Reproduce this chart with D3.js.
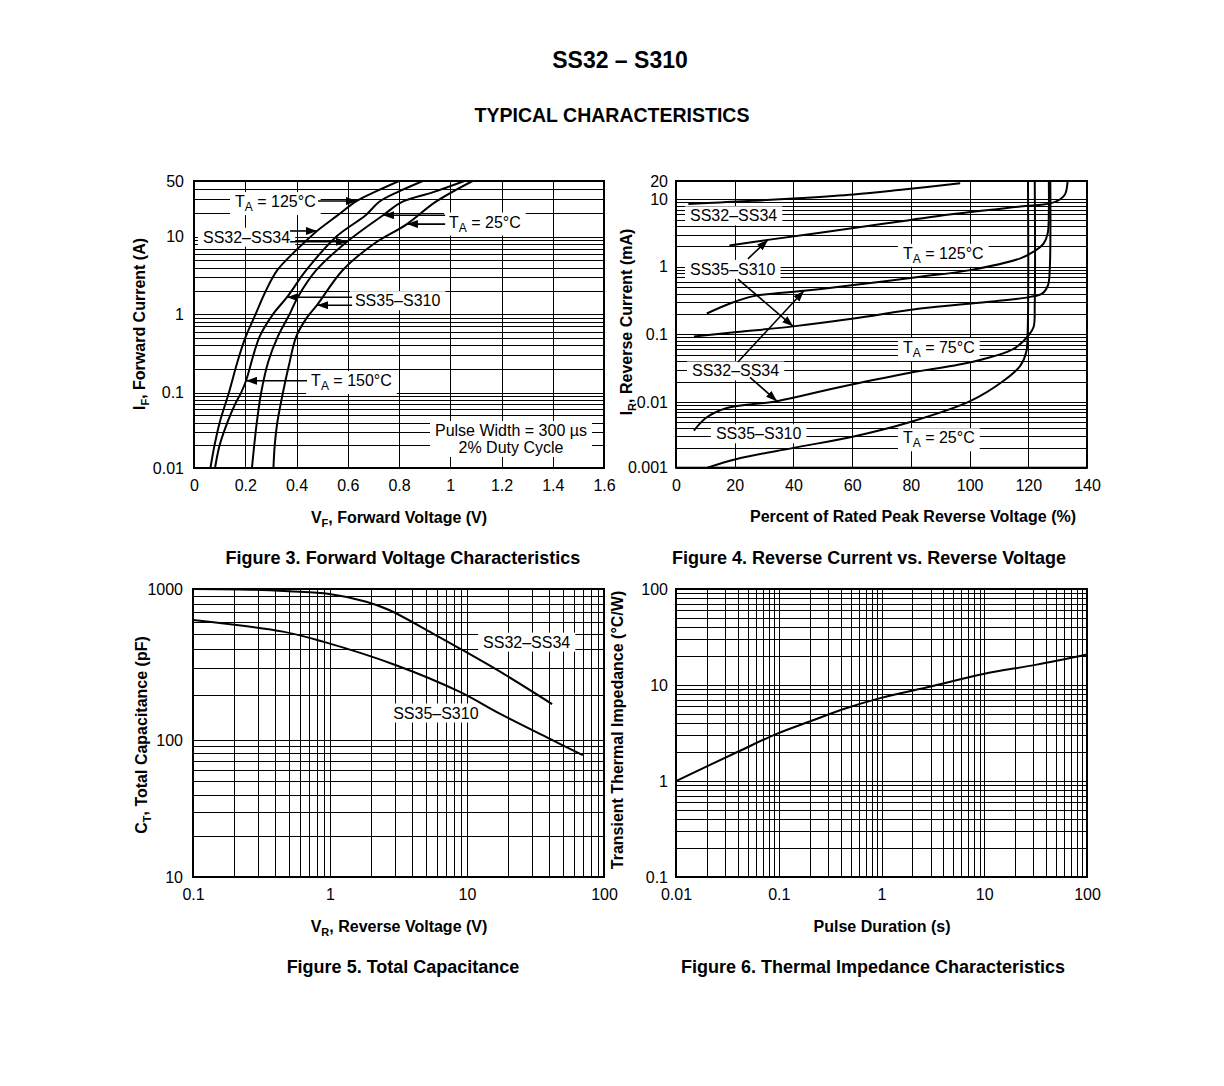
<!DOCTYPE html>
<html>
<head>
<meta charset="utf-8">
<script src="https://cdn.jsdelivr.net/npm/d3@7"></script>
<style>
  body { margin: 0; background: #fff; }
  svg { display: block; }
  text { font-family: "Liberation Sans", Arial, Helvetica, sans-serif; fill: #000; }
</style>
</head>
<body>
<svg id="sheet" width="1224" height="1086"></svg>
<script>
// ---------- Figure 3: forward voltage (V) vs forward current (A)
const f3XTicks = [0, 0.2, 0.4, 0.6, 0.8, 1, 1.2, 1.4, 1.6];
const f3XGrid = [0.2, 0.4, 0.6, 0.8, 1, 1.2, 1.4];
const f3YTicks = [0.01, 0.1, 1, 10, 50];
const f3CurveA = [[0.064,0.01],[0.08,0.02],[0.10,0.04],[0.136,0.1],[0.17,0.25],[0.20,0.5],[0.24,1],[0.28,2],[0.325,3.7],[0.386,6.1],[0.44,9],[0.48,11.8],[0.56,18.5],[0.634,28],[0.71,37],[0.80,50]];
const f3CurveB = [[0.082,0.01],[0.10,0.02],[0.13,0.04],[0.16,0.07],[0.184,0.1],[0.203,0.142],[0.256,0.52],[0.308,1],[0.363,1.66],[0.438,3.7],[0.555,10],[0.671,18.7],[0.723,27.5],[0.80,37],[0.893,50]];
const f3CurveC = [[0.226,0.01],[0.235,0.02],[0.245,0.04],[0.262,0.1],[0.29,0.25],[0.327,0.52],[0.373,1],[0.405,1.66],[0.477,3.7],[0.597,8.6],[0.738,18.6],[0.814,27.5],[0.931,36],[1.055,50]];
const f3CurveD = [[0.31,0.01],[0.315,0.02],[0.325,0.04],[0.347,0.1],[0.37,0.22],[0.399,0.52],[0.44,0.9],[0.48,1.31],[0.58,3.7],[0.70,8],[0.831,14.4],[0.944,27.5],[1.087,50]];

// ---------- Figure 4: percent of rated reverse voltage vs reverse current (mA)
const f4XTicks = [0, 20, 40, 60, 80, 100, 120, 140];
const f4XGrid = [20, 40, 60, 80, 100, 120];
const f4YTicks = [0.001, 0.01, 0.1, 1, 10, 20];
const f4Curve1 = [[4.2,8.5],[15,9],[26.4,9.5],[40,10.3],[60.5,12],[77.5,14.5],[96.8,18.3]];
const f4Curve2 = [[18.2,2.07],[31.3,2.5],[49.1,3.2],[71.8,4.4],[94.5,6.05],[117.3,7.8],[127.5,8.7],[130.9,10],[132.6,12.3],[133.4,20]];
const f4Curve3 = [[10.5,0.203],[18.4,0.285],[26.4,0.367],[43.6,0.44],[60.5,0.534],[83.2,0.71],[100.2,0.89],[117.3,1.33],[121.8,1.67],[125.2,2.2],[126.6,3.1],[127,6.9],[127,20]];
const f4Curve4 = [[6.1,0.093],[20.7,0.108],[39.9,0.131],[60.5,0.171],[83.2,0.24],[105.9,0.3],[120.7,0.358],[124.7,0.4],[126.7,0.53],[127.3,0.89],[127.5,20]];
const f4Curve5 = [[6.1,0.0037],[10.5,0.0059],[17.3,0.0082],[34.4,0.0104],[54.8,0.0164],[77.5,0.0261],[100.2,0.0387],[115,0.061],[120.1,0.0965],[121.8,0.128],[122.2,0.285],[122.2,20]];
const f4Curve6 = [[10.7,0.001],[20.7,0.00136],[40,0.00201],[60.5,0.003],[79.8,0.005],[100.2,0.0104],[111.6,0.0207],[117.3,0.0346],[119.3,0.055],[119.8,0.115],[119.9,20]];

// ---------- Figure 5: reverse voltage (V) vs total capacitance (pF)
const f5XTicks = [0.1, 1, 10, 100];
const f5YTicks = [10, 100, 1000];
const f5SS32 = [[0.1,1000],[0.26,990],[0.5,965],[0.99,927],[1.84,824],[2.7,726],[5.6,509],[8.8,405],[18.3,276],[41.8,173]];
const f5SS35 = [[0.1,623],[0.454,522],[0.89,448],[3.0,314],[8.8,209],[17.2,150],[40,102],[70,77.6]];

// ---------- Figure 6: pulse duration (s) vs transient thermal impedance (C/W)
const f6XTicks = [0.01, 0.1, 1, 10, 100];
const f6YTicks = [0.1, 1, 10, 100];
const f6Zth = [[0.01,1],[0.0405,2.03],[0.0956,3.1],[0.2,4.17],[0.46,5.75],[0.97,7.3],[3.1,9.7],[9.8,13],[32.4,16.3],[100,20.8]];

// annotations (anchored in data units)
const f3Labels = [
  {at: [0.16, 28], parts: [['T'], ['A', 1], [' = 125°C']]},
  {at: [0.035, 10], parts: [['SS32–SS34']]},
  {at: [0.995, 15.5], parts: [['T'], ['A', 1], [' = 25°C']]},
  {at: [0.628, 1.52], parts: [['SS35–S310']]},
  {at: [0.457, 0.145], parts: [['T'], ['A', 1], [' = 150°C']]},
  {at: [1.237, 0.032], lines: ['Pulse Width = 300 µs', '2% Duty Cycle']}
];
const f3Arrows = [
  [[0.484, 28], [0.636, 28]],
  [[0.375, 11.8], [0.48, 11.8]],
  [[0.375, 8.6], [0.597, 8.6]],
  [[0.98, 18.6], [0.738, 18.6]],
  [[0.98, 14.4], [0.831, 14.4]],
  [[0.617, 1.66], [0.363, 1.66]],
  [[0.617, 1.31], [0.48, 1.31]],
  [[0.441, 0.142], [0.203, 0.142]]
];
const f4Labels = [
  {at: [4.77, 5.78], parts: [['SS32–SS34']]},
  {at: [4.77, 0.927], parts: [['SS35–S310']]},
  {at: [77.3, 1.61], parts: [['T'], ['A', 1], [' = 125°C']]},
  {at: [77.3, 0.0649], parts: [['T'], ['A', 1], [' = 75°C']]},
  {at: [5.45, 0.0294], parts: [['SS32–SS34']]},
  {at: [13.6, 0.00336], parts: [['SS35–S310']]},
  {at: [77.3, 0.00292], parts: [['T'], ['A', 1], [' = 25°C']]}
];
const f4Arrows = [
  [[24.5, 1.31], [31.3, 2.5]],
  [[21.1, 0.656], [39.9, 0.131]],
  [[21.1, 0.0391], [43.6, 0.44]],
  [[25.2, 0.0233], [34.4, 0.0104]]
];
const f5Labels = [
  {at: [13.1, 448], parts: [['SS32–SS34']]},
  {at: [2.89, 152], parts: [['SS35–S310']]}
];

const svg = d3.select('#sheet');
const defs = svg.append('defs');
defs.append('marker')
  .attr('id', 'arrowHead')
  .attr('viewBox', '0 0 11 8')
  .attr('refX', 11).attr('refY', 4)
  .attr('markerWidth', 11).attr('markerHeight', 8)
  .attr('markerUnits', 'userSpaceOnUse')
  .attr('orient', 'auto')
  .append('path').attr('d', 'M0,0L11,4L0,8Z').attr('fill', '#000');

function logGrid(lo, hi) {
  const out = [];
  for (let e = Math.floor(Math.log10(lo)); e <= Math.ceil(Math.log10(hi)); e++) {
    for (let k = 1; k <= 9; k++) {
      const v = +(k * Math.pow(10, e)).toPrecision(6);
      if (v >= lo * 0.9999 && v <= hi * 1.0001) out.push(v);
    }
  }
  return out;
}

function richText(sel, parts, subSize) {
  let wasSub = false;
  parts.forEach(function (p) {
    const t = sel.append('tspan').text(p[0]);
    if (p[1]) {
      t.attr('dy', 4).style('font-size', subSize + 'px');
      wasSub = true;
    } else if (wasSub) {
      t.attr('dy', -4);
      wasSub = false;
    }
  });
}

function drawPanel(o) {
  const x = o.x, y = o.y;
  const xl = x.range()[0], xr = x.range()[x.range().length - 1];
  const yb = y.range()[0], yt = y.range()[y.range().length - 1];
  const w = xr - xl, h = yb - yt;
  const g = svg.append('g');

  defs.append('clipPath').attr('id', 'clip' + o.id)
    .append('rect').attr('x', xl).attr('y', yt).attr('width', w).attr('height', h);

  // grid
  const gx = g.append('g').attr('transform', `translate(0,${yb})`)
    .call(d3.axisBottom(x).tickValues(o.xGrid).tickSize(-h).tickFormat(''));
  const gy = g.append('g').attr('transform', `translate(${xl},0)`)
    .call(d3.axisLeft(y).tickValues(o.yGrid).tickSize(-w).tickFormat(''));
  [gx, gy].forEach(function (a) {
    a.select('.domain').remove();
    a.selectAll('line').attr('stroke', '#000').attr('stroke-width', 1).attr('shape-rendering', 'crispEdges');
  });

  const bg = g.append('g');
  const curves = g.append('g').attr('clip-path', `url(#clip${o.id})`);
  const arrows = g.append('g');
  const labels = g.append('g');

  const line = d3.line()
    .x(d => x(d[0]))
    .y(d => y(d[1]))
    .curve(d3.curveCatmullRom.alpha(0.5));

  o.series.forEach(function (s) {
    curves.append('path').attr('d', line(s))
      .attr('fill', 'none').attr('stroke', '#000').attr('stroke-width', 2)
      .attr('stroke-linejoin', 'round');
  });

  (o.arrows || []).forEach(function (a) {
    arrows.append('line')
      .attr('x1', x(a[0][0])).attr('y1', y(a[0][1]))
      .attr('x2', x(a[1][0])).attr('y2', y(a[1][1]))
      .attr('stroke', '#000').attr('stroke-width', 1.6)
      .attr('marker-end', 'url(#arrowHead)');
  });

  (o.labels || []).forEach(function (lab) {
    const t = labels.append('text').style('font-size', '16px');
    if (lab.lines) {
      t.attr('text-anchor', 'middle');
      lab.lines.forEach(function (l, i) {
        t.append('tspan').attr('x', x(lab.at[0])).attr('y', y(lab.at[1]) + 6 + i * 17).text(l);
      });
    } else {
      t.attr('x', x(lab.at[0])).attr('y', y(lab.at[1]) + 6);
      richText(t, lab.parts, 12);
    }
    const b = t.node().getBBox();
    bg.append('rect')
      .attr('x', b.x - 5).attr('y', b.y - 1)
      .attr('width', b.width + 10).attr('height', b.height + 2)
      .attr('fill', '#fff');
  });

  // frame
  g.append('rect').attr('x', xl).attr('y', yt).attr('width', w).attr('height', h)
    .attr('fill', 'none').attr('stroke', '#000').attr('stroke-width', 2);

  // tick labels
  const ax = g.append('g').attr('transform', `translate(0,${yb})`)
    .call(d3.axisBottom(x).tickValues(o.xTicks).tickSize(0).tickPadding(12).tickFormat(d => String(d)));
  const ay = g.append('g').attr('transform', `translate(${xl},0)`)
    .call(d3.axisLeft(y).tickValues(o.yTicks).tickSize(0).tickPadding(o.yPad).tickFormat(d => String(d)));
  [ax, ay].forEach(function (a) {
    a.select('.domain').remove();
    a.selectAll('text').style('font-size', '16px');
  });
}

function title(txt, x, y, size) {
  svg.append('text').attr('x', x).attr('y', y).attr('text-anchor', 'middle')
    .style('font-size', size + 'px').style('font-weight', 'bold').text(txt);
}

function axisTitle(parts, x, y, rotate) {
  const t = svg.append('text').attr('text-anchor', 'middle')
    .style('font-size', '16px').style('font-weight', 'bold');
  if (rotate) t.attr('transform', `translate(${x},${y}) rotate(-90)`);
  else t.attr('x', x).attr('y', y);
  richText(t, parts, 11);
}

// Figure 3
drawPanel({
  id: 3,
  x: d3.scaleLinear().domain([0, 1.6]).range([194, 604]),
  y: d3.scaleLog().domain([0.01, 0.1, 1, 10, 50]).range([468, 392.7, 314.3, 236.7, 181]),
  xGrid: f3XGrid, yGrid: logGrid(0.01, 50),
  xTicks: f3XTicks, yTicks: f3YTicks, yPad: 10,
  series: [f3CurveA, f3CurveB, f3CurveC, f3CurveD],
  labels: f3Labels, arrows: f3Arrows
});

// Figure 4
drawPanel({
  id: 4,
  x: d3.scaleLinear().domain([0, 140]).range([676, 1087]),
  y: d3.scaleLog().domain([0.001, 0.01, 0.1, 1, 10, 20]).range([467.7, 402.3, 334.3, 266.7, 199.3, 181]),
  xGrid: f4XGrid, yGrid: logGrid(0.001, 20),
  xTicks: f4XTicks, yTicks: f4YTicks, yPad: 8,
  series: [f4Curve1, f4Curve2, f4Curve3, f4Curve4, f4Curve5, f4Curve6],
  labels: f4Labels, arrows: f4Arrows
});

// Figure 5
drawPanel({
  id: 5,
  x: d3.scaleLog().domain([0.1, 100]).range([193, 604]),
  y: d3.scaleLog().domain([10, 100, 1000]).range([877, 740, 589]),
  xGrid: logGrid(0.1, 100), yGrid: logGrid(10, 1000),
  xTicks: f5XTicks, yTicks: f5YTicks, yPad: 10,
  series: [f5SS32, f5SS35],
  labels: f5Labels
});

// Figure 6
drawPanel({
  id: 6,
  x: d3.scaleLog().domain([0.01, 100]).range([676, 1087]),
  y: d3.scaleLog().domain([0.1, 100]).range([877, 589]),
  xGrid: logGrid(0.01, 100), yGrid: logGrid(0.1, 100),
  xTicks: f6XTicks, yTicks: f6YTicks, yPad: 8,
  series: [f6Zth]
});

title('SS32 – S310', 620, 68, 23);
title('TYPICAL CHARACTERISTICS', 612, 122, 19.5);
title('Figure 3. Forward Voltage Characteristics', 403, 564, 18);
title('Figure 4. Reverse Current vs. Reverse Voltage', 869, 564, 18);
title('Figure 5. Total Capacitance', 403, 973, 18);
title('Figure 6. Thermal Impedance Characteristics', 873, 973, 18);

axisTitle([['V'], ['F', 1], [', Forward Voltage (V)']], 399, 523);
axisTitle([['Percent of Rated Peak Reverse Voltage (%)']], 913, 522);
axisTitle([['V'], ['R', 1], [', Reverse Voltage (V)']], 399, 932);
axisTitle([['Pulse Duration (s)']], 882, 932);
axisTitle([['I'], ['F', 1], [', Forward Current (A)']], 145, 324, true);
axisTitle([['I'], ['R', 1], [', Reverse Current (mA)']], 632, 322, true);
axisTitle([['C'], ['T', 1], [', Total Capacitance (pF)']], 147, 735, true);
axisTitle([['Transient Thermal Impedance (°C/W)']], 623, 730, true);
</script>
</body>
</html>
